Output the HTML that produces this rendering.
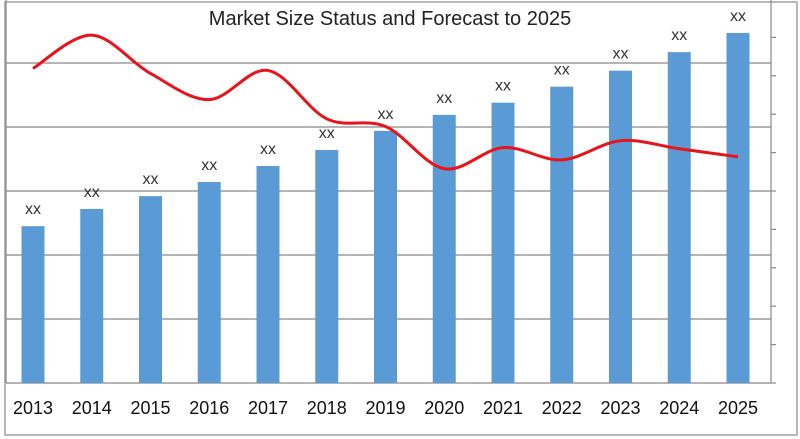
<!DOCTYPE html>
<html><head><meta charset="utf-8"><style>
html,body{margin:0;padding:0;background:#fff;}
svg{display:block;font-family:"Liberation Sans",sans-serif;}
</style></head><body>
<svg id="chart" width="800" height="439">
<rect x="5" y="2" width="792" height="433" fill="#fff" stroke="#a0a0a0" stroke-width="1.5"/>
<g id="grid"></g><g id="bars"></g><g id="labels"></g>
<path id="line" fill="none" stroke="#e8141a" stroke-width="3"/>
<text x="390" y="25" text-anchor="middle" font-size="20" fill="#222">Market Size Status and Forecast to 2025</text>
</svg>
<script>
const years=["2013","2014","2015","2016","2017","2018","2019","2020","2021","2022","2023","2024","2025"];
const marketSize=[2.45,2.72,2.92,3.14,3.39,3.64,3.94,4.19,4.38,4.63,4.88,5.17,5.47];
const growthRate=[8.19,9.06,8.06,7.38,8.14,6.88,6.68,5.58,6.13,5.81,6.31,6.10,5.89];
const leftTicks=[0,1,2,3,4,5,6];
const rightTicks=[0,1,2,3,4,5,6,7,8,9,10];
const NS="http://www.w3.org/2000/svg";
const L=6,R=771,B=383,T=-1;
const x=i=>33+i*58.75;
const yL=v=>B-(B-T)*v/6;
const yR=v=>B-(B-T)*v/10;
function mk(tag,attrs,parent){const e=document.createElementNS(NS,tag);for(const k in attrs)e.setAttribute(k,attrs[k]);document.getElementById(parent).appendChild(e);return e;}
leftTicks.forEach(t=>{const g=mk('line',{x1:L,x2:R,y1:yL(t),y2:yL(t),stroke:'#888','stroke-width':1.2},'grid');

});
const la=mk('line',{x1:L,x2:L,y1:0,y2:B,stroke:'#888','stroke-width':1.2},'grid');


const ra=mk('line',{x1:R,x2:R,y1:0,y2:B,stroke:'#888','stroke-width':1.2},'grid');


rightTicks.forEach(t=>{const k=mk('line',{x1:R,x2:R+5,y1:yR(t),y2:yR(t),stroke:'#888','stroke-width':1.2},'grid');

});
years.forEach((yr,i)=>{
const b=mk('rect',{x:x(i)-11.5,y:yL(marketSize[i]),width:23,height:B-yL(marketSize[i]),fill:'#5b9bd5'},'bars');


const v=mk('text',{x:x(i),y:yL(marketSize[i])-12,'text-anchor':'middle','font-size':16,fill:'#333'},'labels');v.textContent='xx';


const c=mk('text',{x:x(i),y:414,'text-anchor':'middle','font-size':18,fill:'#111'},'labels');c.textContent=yr;


});
const pts=growthRate.map((v,i)=>[x(i),yR(v)]);
let d='M'+pts[0][0]+','+pts[0][1];
for(let i=0;i<pts.length-1;i++){const p0=pts[Math.max(0,i-1)],p1=pts[i],p2=pts[i+1],p3=pts[Math.min(pts.length-1,i+2)];
d+=' C'+(p1[0]+(p2[0]-p0[0])/6)+','+(p1[1]+(p2[1]-p0[1])/6)+' '+(p2[0]-(p3[0]-p1[0])/6)+','+(p2[1]-(p3[1]-p1[1])/6)+' '+p2[0]+','+p2[1];}
document.getElementById('line').setAttribute('d',d);
</script>
</body></html>
